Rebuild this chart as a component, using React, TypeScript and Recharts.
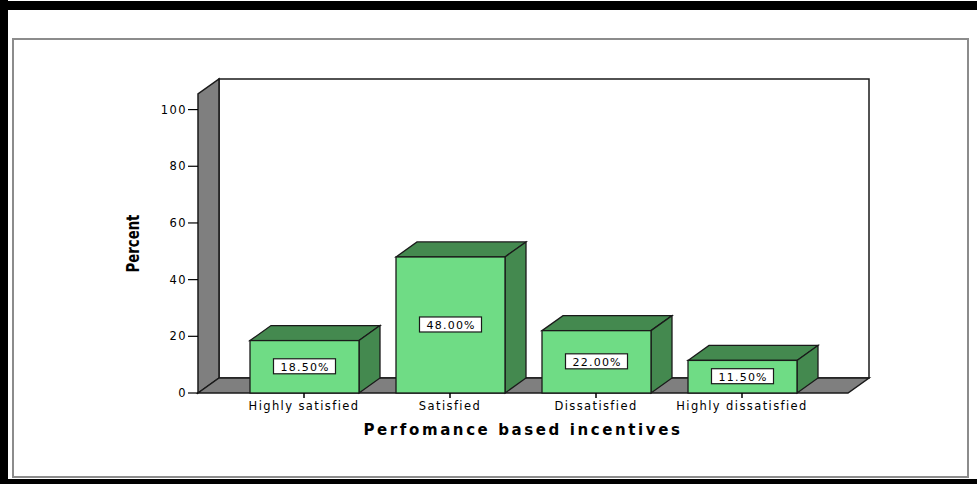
import React from 'react';
import {
  BarChart,
  Bar,
  XAxis,
  YAxis,
  ReferenceArea,
  LabelList,
} from 'recharts';

// values
const categories = ['Highly satisfied', 'Satisfied', 'Dissatisfied', 'Highly dissatisfied'];
const percents = [18.5, 48.0, 22.0, 11.5];
const yTicks = [0, 20, 40, 60, 80, 100];
const yMax = 105.5;

const chartData = categories.map((name, i) => ({ name, percent: percents[i] }));

// depth offset of the fake 3D effect
const DX = 21;
const DY = -15;
const PAD = 33;

const FRONT = '#6FDC85';
const DARK = '#44894F';
const WALL = '#7F7F7F';
const EDGE = '#1a1a1a';

const tickFont = { fontSize: 11.5, fontFamily: 'DejaVu Sans', letterSpacing: 1.4, fill: '#000' };

// back wall, left wall and floor drawn from the plot box
const Walls = (props: any) => {
  const { y, height: h } = props;
  const x = props.x - PAD;
  const w = props.width + 2 * PAD;
  const pt = (a: number, b: number) => `${a},${b}`;
  return (
    <g>
      <rect x={x + DX} y={y + DY} width={w} height={h} fill="#fff" stroke={EDGE} strokeWidth={1.5} />
      <polygon
        points={[pt(x, y + h), pt(x, y), pt(x + DX, y + DY), pt(x + DX, y + h + DY)].join(' ')}
        fill={WALL}
        stroke={EDGE}
        strokeWidth={1.5}
      />
      <polygon
        points={[pt(x, y + h), pt(x + DX, y + h + DY), pt(x + w + DX, y + h + DY), pt(x + w, y + h)].join(' ')}
        fill={WALL}
        stroke={EDGE}
        strokeWidth={1.5}
      />
    </g>
  );
};

const Bar3D = (props: any) => {
  const { x, y, width: w, height: h } = props;
  const pt = (a: number, b: number) => `${a},${b}`;
  return (
    <g>
      <polygon
        points={[pt(x, y), pt(x + DX, y + DY), pt(x + w + DX, y + DY), pt(x + w, y)].join(' ')}
        fill={DARK}
        stroke={EDGE}
        strokeWidth={1.3}
      />
      <polygon
        points={[pt(x + w, y), pt(x + w + DX, y + DY), pt(x + w + DX, y + h + DY), pt(x + w, y + h)].join(' ')}
        fill={DARK}
        stroke={EDGE}
        strokeWidth={1.3}
      />
      <rect x={x} y={y} width={w} height={h} fill={FRONT} stroke={EDGE} strokeWidth={1.3} />
    </g>
  );
};

const ValueBox = (props: any) => {
  const { x, y, width, height, value } = props;
  const cx = x + width / 2;
  const cy = y + height / 2;
  return (
    <g>
      <rect x={cx - 31} y={cy - 8} width={62} height={15} fill="#fff" stroke={EDGE} strokeWidth={1.2} />
      <text
        x={cx + 0.7}
        y={cy + 4}
        textAnchor="middle"
        fontSize={11}
        fontFamily="DejaVu Sans"
        letterSpacing={1.2}
        fill="#000"
      >
        {`${Number(value).toFixed(2)}%`}
      </text>
    </g>
  );
};

const XTitle = (props: any) => {
  const vb = props.viewBox;
  return (
    <text
      x={vb.x + vb.width / 2}
      y={vb.y + 42}
      textAnchor="middle"
      fontSize={15}
      fontWeight="bold"
      fontFamily="DejaVu Sans"
      letterSpacing={2.6}
      fill="#000"
    >
      Perfomance based incentives
    </text>
  );
};

const YTitle = (props: any) => {
  const vb = props.viewBox;
  const cx = vb.x - 5;
  const cy = vb.y + vb.height / 2;
  return (
    <text
      x={0}
      y={0}
      transform={`translate(${cx}, ${cy}) rotate(-90) scale(0.82, 1)`}
      textAnchor="middle"
      dominantBaseline="central"
      fontSize={18}
      fontWeight="bold"
      fontFamily="'DejaVu Sans Condensed', sans-serif"
      fill="#000"
    >
      Percent
    </text>
  );
};

export default function App() {
  return (
    <div style={{ position: 'absolute', left: 0, top: 0, width: 977, height: 484, background: '#fff' }}>
      {/* black frame of the pasted screenshot */}
      <div style={{ position: 'absolute', left: 0, top: 1, width: 977, height: 9, background: '#000' }} />
      <div style={{ position: 'absolute', left: 0, top: 0, width: 8, height: 484, background: '#000' }} />
      <div style={{ position: 'absolute', left: 0, top: 479, width: 977, height: 5, background: '#000' }} />
      {/* grey inner box */}
      <div
        style={{
          position: 'absolute',
          left: 12,
          top: 38,
          width: 953,
          height: 436,
          border: '2px solid #8c8c8c',
        }}
      />
      <div style={{ position: 'absolute', left: 0, top: 0 }}>
        <BarChart
          width={977}
          height={484}
          data={chartData}
          margin={{ top: 94, right: 129, left: 138, bottom: 61 }}
          barSize={109}
        >
          <XAxis
            dataKey="name"
            axisLine={false}
            tickLine={{ stroke: '#000', strokeWidth: 1.5 }}
            tickSize={5}
            tickMargin={4}
            height={30}
            padding={{ left: PAD, right: PAD }}
            tick={tickFont}
            interval={0}
            label={<XTitle />}
          />
          <YAxis
            type="number"
            domain={[0, yMax]}
            ticks={yTicks}
            axisLine={false}
            tickLine={{ stroke: '#000', strokeWidth: 1.2 }}
            tickSize={10}
            tickMargin={1}
            width={60}
            tick={tickFont}
            label={<YTitle />}
          />
          <ReferenceArea y1={0} y2={yMax} ifOverflow="visible" shape={<Walls />} />
          <Bar dataKey="percent" shape={<Bar3D />} isAnimationActive={false}>
            <LabelList dataKey="percent" content={<ValueBox />} />
          </Bar>
        </BarChart>
      </div>
    </div>
  );
}
